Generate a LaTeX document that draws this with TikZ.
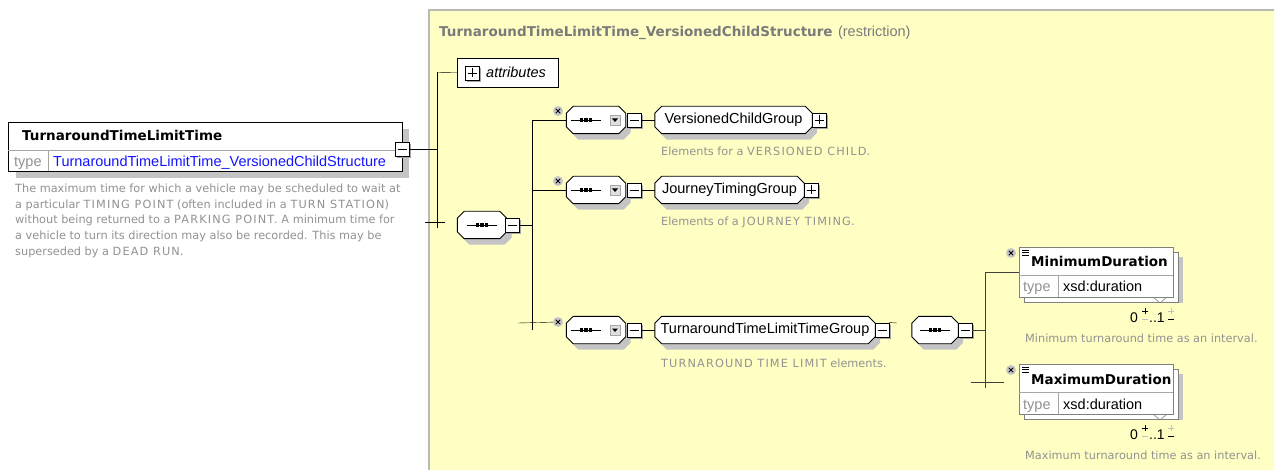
\documentclass[tikz,border=0pt]{standalone}
\usepackage{fontspec}
\setmainfont{Liberation Sans}
\newfontfamily\dejavu{DejaVu Sans}
\newfontfamily\dejavucaps[LetterSpace=10]{DejaVu Sans}
\usetikzlibrary{shadows,calc}
\pgfdeclarelayer{bgzero}
\pgfdeclarelayer{bgone}
\pgfsetlayers{bgzero,bgone,main}
\definecolor{bgy}{HTML}{FFFFC4}
\definecolor{shd}{HTML}{C4C4C4}
\definecolor{dgray}{HTML}{929292}
\definecolor{hgray}{HTML}{7A7A7A}
\definecolor{tblue}{HTML}{1414FF}
\newcommand\fReg{\fontsize{14.5}{16}\selectfont}
\newcommand\fTtl{\dejavu\bfseries\fontsize{13.5}{15}\selectfont}
\newcommand\fDesc{\dejavu\fontsize{11.3}{15.6}\selectfont}
\newcommand\caps[1]{{\dejavucaps #1}}
\newcommand\seqicon[1]{%
  \begin{scope}[shift={#1}]
    \draw[line width=0.9pt] (-15,0) -- (15,0);
    \foreach \dx in {-4.5,0,4.5} \fill (\dx-1.8,-1.8) rectangle (\dx+1.8,1.8);
  \end{scope}}
\newcommand\ddicon[1]{%
  \begin{scope}[shift={#1}]
    \fill[gray!25] (-5,-5) rectangle (5,5);
    \draw[gray!70, line width=0.5pt] (-5,-5) rectangle (5,5);
    \fill (-3,-1.5) -- (3,-1.5) -- (0,2) -- cycle;
  \end{scope}}
\newcommand\octpath[3]{($(#1.north west)+(7+#2,#3)$) -- ($(#1.north east)+(-7+#2,#3)$) -- ($(#1.north east)+(#2,7+#3)$) -- ($(#1.south east)+(#2,-7+#3)$) -- ($(#1.south east)+(-7+#2,#3)$) -- ($(#1.south west)+(7+#2,#3)$) -- ($(#1.south west)+(#2,-7+#3)$) -- ($(#1.north west)+(#2,7+#3)$) -- cycle}
\newcommand\octo[4]{% name, center, width, text
  \node[font=\fReg, minimum width=#3, minimum height=27pt, inner sep=0pt] (#1) at #2 {#4};
  \begin{pgfonlayer}{bgone}
    \fill[shd] \octpath{#1}{5}{6};
    \draw[fill=white, line width=0.9pt] \octpath{#1}{0}{0};
  \end{pgfonlayer}}
\newcommand\durbox[4]{% name, top y, title, desc
  \fill[shd] (1029,#2+10) rectangle (1183,#2+56);
  \draw[fill=white, line width=0.6pt, draw=gray] (1024,#2+5) rectangle (1178,#2+55);
  \node[draw=gray, fill=white, line width=0.6pt, minimum width=154pt, minimum height=50pt, anchor=north west, inner sep=0] (#1) at (1019,#2) {};
  \draw[gray!70, line width=0.5pt] (1019,#2+28) -- (1173,#2+28);
  \draw[gray!70, line width=0.5pt] (1058,#2+28) -- (1058,#2+50);
  \draw[gray, line width=0.6pt] (1153,#2+50) -- (1160,#2+56) -- (1167,#2+50);
  \node[txt, font=\fTtl] (#1t) at (1031,#2+20) {#3};
  \node[txt, font=\fReg, text=dgray] (#1ty) at (1023,#2+45) {type};
  \node[txt, font=\fReg] (#1tv) at (1063,#2+45) {xsd:duration};
  \foreach \k in {0,2.5,5} \draw[line width=0.7pt] (1022,#2+3+\k) -- (1029,#2+3+\k);
  \node[xmark] (#1x) at (1011,#2+6) {};
  \node[txt, font=\fontsize{14}{16}\selectfont] (#1c0) at (1130,#2+75) {0};
  \node[txt, font=\fontsize{14}{16}\selectfont] (#1c1) at (1149,#2+75) {..1};
  \draw[line width=0.7pt] (1142,#2+64) -- (1148,#2+64) (1145,#2+61) -- (1145,#2+67);
  \draw[gray!50, line width=0.7pt] (1142,#2+72) -- (1148,#2+72);
  \draw[gray!50, line width=0.7pt] (1168,#2+64) -- (1174,#2+64) (1171,#2+61) -- (1171,#2+67);
  \draw[line width=0.7pt] (1168,#2+72) -- (1174,#2+72);
  \node[txt, font=\fDesc, text=dgray] (#1d) at (1025,#2+95) {#4};
}
\begin{document}
\begin{tikzpicture}[x=1pt,y=-1pt, line width=0.8pt,
  txt/.style={inner sep=0pt, anchor=base west},
  pm/.style={draw, fill=white, minimum size=14pt, inner sep=0pt, line width=0.9pt,
    drop shadow={shadow xshift=2pt, shadow yshift=-2pt, fill=gray!70, opacity=1}},
  minus/.style={pm, path picture={\draw[line width=0.9pt] ([xshift=2.5pt]path picture bounding box.west) -- ([xshift=-2.5pt]path picture bounding box.east);}},
  plus/.style={pm, path picture={\draw[line width=0.9pt] ([xshift=2.5pt]path picture bounding box.west) -- ([xshift=-2.5pt]path picture bounding box.east) ([yshift=-2.5pt]path picture bounding box.north) -- ([yshift=2.5pt]path picture bounding box.south);}},
  xmark/.style={circle, fill=gray!45, minimum size=10pt, inner sep=0pt,
    path picture={\draw[line width=0.9pt] ([shift={(-2.2pt,-2.2pt)}]path picture bounding box.center) -- ([shift={(2.2pt,2.2pt)}]path picture bounding box.center) ([shift={(-2.2pt,2.2pt)}]path picture bounding box.center) -- ([shift={(2.2pt,-2.2pt)}]path picture bounding box.center);}},
  thinline/.style={line width=0.5pt, draw=black!75},
]
\useasboundingbox (0,0) rectangle (1274,470);
\begin{pgfonlayer}{bgzero}
\fill[white] (0,0) rectangle (1274,470);
\fill[bgy] (429,10) rectangle (1274,470);
\draw[gray!55, line width=1.5pt] (429,470) -- (429,10) -- (1274,10);
\end{pgfonlayer}
\node[txt, font=\fTtl, text=hgray] (hdr) at (439,37) {TurnaroundTimeLimitTime\_VersionedChildStructure};
\node[txt, font=\fReg, text=hgray] (hdr2) at ([xshift=5pt]hdr.base east) {(restriction)};

% left element
\fill[shd] (16,129) rectangle (409,178);
\node[draw, fill=white, line width=1pt, minimum width=394pt, minimum height=49pt, anchor=north west, inner sep=0] (elem) at (8,122) {};
\draw[gray!70, line width=0.5pt] (8,150) -- (402,150);
\draw[gray!70, line width=0.5pt] (48,150) -- (48,171);
\node[txt, font=\fTtl] (elemname) at (22,141) {TurnaroundTimeLimitTime};
\node[txt, font=\fReg, text=dgray] (elemty) at (14,167) {type};
\node[txt, font=\fReg, text=tblue] (elemtv) at (53,167) {TurnaroundTimeLimitTime\_VersionedChildStructure};
\node[minus] (m0) at (402,149) {};
\node[txt, font=\fDesc, text=dgray] (d1) at (15,193) {The maximum time for which a vehicle may be scheduled to wait at};
\node[txt, font=\fDesc, text=dgray] (d2) at (15,209) {a particular \caps{TIMING POINT} (often included in a \caps{TURN STATION})};
\node[txt, font=\fDesc, text=dgray] (d3) at (15,224) {without being returned to a \caps{PARKING POINT}. A minimum time for};
\node[txt, font=\fDesc, text=dgray] (d4) at (15,240) {a vehicle to turn its direction may also be recorded. This may be};
\node[txt, font=\fDesc, text=dgray] (d5) at (15,256) {superseded by a \caps{DEAD RUN}.};

% attributes
\node[draw, fill=white, line width=0.6pt, minimum width=101pt, minimum height=29pt, anchor=north west, inner sep=0] (attr) at (457,58) {};
\node[plus] (attrp) at (472,73) {};
\node[txt, font=\fReg\itshape] (attrt) at (486,78) {attributes};

% first bus
\coordinate (b1top) at (437,72.5);
\coordinate (b1bot) at (437,228);
\coordinate (t1a) at (425,222);
\coordinate (t1b) at (445,222);
\draw (m0.east) -- (m0.east -| b1top);
\draw (b1top) -- (b1bot);
\draw (b1top) -- (attr.west);
\draw (t1a) -- (t1b);

% main sequence
\octo{s0}{(482,225)}{49pt}{}
\seqicon{(482,225)}
\node[minus] (s0m) at (512,225) {};
\coordinate (b2top) at (532,120);
\coordinate (b2bot) at (532,330);
\draw (s0m.east) -- (s0m.east -| b2top);
\draw (b2top) -- (b2bot);

% sequence 1
\octo{s1}{(596,120)}{59pt}{}
\seqicon{(586,120)}
\ddicon{(615,120)}
\node[minus] (s1m) at (634,120) {};
\node[xmark] (x1) at (558,111) {};
\draw (b2top) -- (s1.west);
\octo{g1}{(733.5,120)}{157pt}{VersionedChildGroup}
\node[plus] (g1p) at (819,120) {};
\draw (s1m.east) -- (g1.west);
\node[txt, font=\fDesc, text=dgray] (g1d) at (661,156) {Elements for a \caps{VERSIONED CHILD}.};

% sequence 2
\octo{s2}{(596,190)}{59pt}{}
\seqicon{(586,190)}
\ddicon{(615,190)}
\node[minus] (s2m) at (634,190) {};
\node[xmark] (x2) at (558,181) {};
\draw (b2top |- s2.west) -- (s2.west);
\octo{g2}{(729.5,190)}{149pt}{JourneyTimingGroup}
\node[plus] (g2p) at (811,190) {};
\draw (s2m.east) -- (g2.west);
\node[txt, font=\fDesc, text=dgray] (g2d) at (661,226) {Elements of a \caps{JOURNEY TIMING}.};

% sequence 3
\octo{s3}{(596,330)}{59pt}{}
\seqicon{(586,330)}
\ddicon{(615,330)}
\node[minus] (s3m) at (634,330) {};
\node[xmark] (x3) at (558,322) {};
\coordinate (t3a) at (518,323);
\draw (t3a) -- (x3);
\octo{g3}{(765,330)}{220pt}{TurnaroundTimeLimitTimeGroup}
\node[minus] (g3m) at (882,330) {};
\draw (s3m.east) -- (g3.west);
\coordinate (g3tail) at (897,323);
\draw (g3m.north east) -- (g3tail);
\node[txt, font=\fDesc, text=dgray] (g3d) at (661,367) {\caps{TURNAROUND TIME LIMIT} elements.};

% inner sequence
\octo{s4}{(935,330)}{46pt}{}
\seqicon{(935,330)}
\node[minus] (s4m) at (965,330) {};
\coordinate (b3top) at (985,272);
\coordinate (b3bot) at (985,388);
\coordinate (t4a) at (971,382);
\coordinate (t4b) at (1004,382);
\draw[thinline] (s4m.east) -- (s4m.east -| b3top);
\draw[thinline] (b3top) -- (b3bot);
\draw[thinline] (t4a) -- (t4b);

% duration elements
\durbox{minb}{247}{MinimumDuration}{Minimum turnaround time as an interval.}
\durbox{maxb}{364}{MaximumDuration}{Maximum turnaround time as an interval.}
\draw[thinline] (b3top) -- (minb.west |- b3top);
\end{tikzpicture}
\end{document}
